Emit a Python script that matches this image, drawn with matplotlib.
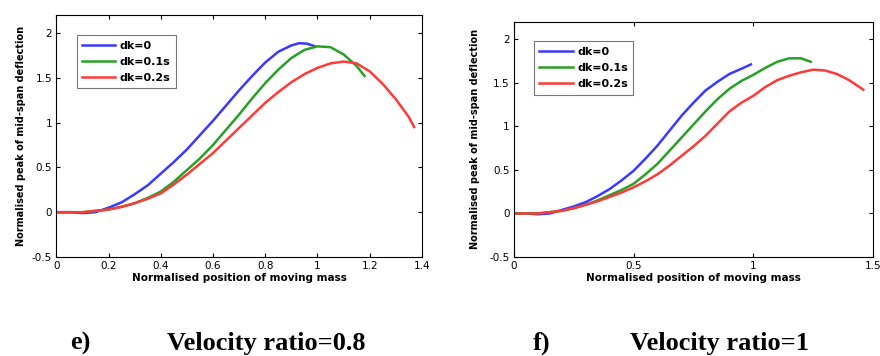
import numpy as np
import matplotlib.pyplot as plt

# velocity ratio 0.8
x08_dk0 = [0, 0.05, 0.1, 0.15, 0.2, 0.25, 0.3, 0.35, 0.4, 0.45, 0.5, 0.55, 0.6, 0.65, 0.7, 0.75, 0.8, 0.85, 0.9, 0.93, 0.96, 0.99]
y08_dk0 = [0, 0, -0.01, 0.0, 0.05, 0.11, 0.2, 0.3, 0.43, 0.56, 0.7, 0.86, 1.02, 1.19, 1.36, 1.52, 1.67, 1.79, 1.86, 1.885, 1.88, 1.85]
x08_dk1 = [0, 0.1, 0.2, 0.25, 0.3, 0.35, 0.4, 0.45, 0.5, 0.55, 0.6, 0.65, 0.7, 0.75, 0.8, 0.85, 0.9, 0.95, 1.0, 1.05, 1.1, 1.15, 1.18]
y08_dk1 = [0, 0, 0.03, 0.06, 0.1, 0.16, 0.23, 0.34, 0.47, 0.6, 0.75, 0.92, 1.09, 1.27, 1.44, 1.59, 1.72, 1.81, 1.85, 1.84, 1.76, 1.63, 1.52]
x08_dk2 = [0, 0.1, 0.2, 0.25, 0.3, 0.35, 0.4, 0.45, 0.5, 0.55, 0.6, 0.65, 0.7, 0.75, 0.8, 0.85, 0.9, 0.95, 1.0, 1.05, 1.1, 1.15, 1.2, 1.25, 1.3, 1.35, 1.37]
y08_dk2 = [0, 0, 0.03, 0.06, 0.1, 0.15, 0.21, 0.31, 0.42, 0.54, 0.66, 0.8, 0.94, 1.08, 1.22, 1.34, 1.45, 1.54, 1.61, 1.66, 1.68, 1.66, 1.57, 1.43, 1.26, 1.06, 0.95]

# velocity ratio 1
x1_dk0 = [0, 0.05, 0.1, 0.15, 0.2, 0.25, 0.3, 0.35, 0.4, 0.45, 0.5, 0.55, 0.6, 0.65, 0.7, 0.75, 0.8, 0.85, 0.9, 0.95, 0.99]
y1_dk0 = [0, 0, -0.01, 0.0, 0.04, 0.08, 0.13, 0.2, 0.28, 0.38, 0.49, 0.63, 0.78, 0.95, 1.12, 1.27, 1.41, 1.51, 1.6, 1.66, 1.71]
x1_dk1 = [0, 0.1, 0.2, 0.25, 0.3, 0.35, 0.4, 0.45, 0.5, 0.55, 0.6, 0.65, 0.7, 0.75, 0.8, 0.85, 0.9, 0.95, 1.0, 1.05, 1.1, 1.15, 1.2, 1.24]
y1_dk1 = [0, 0, 0.03, 0.06, 0.1, 0.15, 0.21, 0.27, 0.34, 0.45, 0.57, 0.72, 0.87, 1.02, 1.17, 1.31, 1.43, 1.52, 1.59, 1.67, 1.74, 1.78, 1.78, 1.74]
x1_dk2 = [0, 0.1, 0.2, 0.25, 0.3, 0.35, 0.4, 0.45, 0.5, 0.55, 0.6, 0.65, 0.7, 0.75, 0.8, 0.85, 0.9, 0.95, 1.0, 1.05, 1.1, 1.15, 1.2, 1.25, 1.3, 1.35, 1.4, 1.46]
y1_dk2 = [0, 0, 0.03, 0.06, 0.1, 0.14, 0.19, 0.24, 0.3, 0.37, 0.45, 0.55, 0.66, 0.77, 0.89, 1.03, 1.17, 1.27, 1.35, 1.45, 1.53, 1.58, 1.62, 1.65, 1.64, 1.6, 1.53, 1.42]

labels = ["dk=0", "dk=0.1s", "dk=0.2s"]
colors = ["#3a3aff", "#28a028", "#ff3a3a"]

captions = [("e)", "Velocity ratio=0.8"), ("f)", "Velocity ratio=1")]

fig = plt.figure(figsize=(8.8, 3.56), dpi=100)
ax1 = fig.add_axes([0.064, 0.278, 0.4155, 0.68])
ax2 = fig.add_axes([0.584, 0.278, 0.408, 0.661])

series = [
    (ax1, [(x08_dk0, y08_dk0), (x08_dk1, y08_dk1), (x08_dk2, y08_dk2)], 1.4, np.arange(0, 1.41, 0.2), 4),
    (ax2, [(x1_dk0, y1_dk0), (x1_dk1, y1_dk1), (x1_dk2, y1_dk2)], 1.5, [0, 0.5, 1, 1.5], 7),
]

for ax, data, xmax, xt, lp in series:
    for (xs, ys), lab, c in zip(data, labels, colors):
        ax.plot(xs, ys, color=c, lw=1.8, label=lab)
    ax.set_xlim(0, xmax)
    ax.set_ylim(-0.5, 2.2)
    ax.set_xticks(xt)
    ax.set_xticklabels(["%g" % t for t in xt])
    ax.set_yticks([-0.5, 0, 0.5, 1, 1.5, 2])
    ax.set_yticklabels(["-0.5", "0", "0.5", "1", "1.5", "2"])
    ax.tick_params(direction="in", top=True, right=True, labelsize=7.5, length=3, pad=3)
    ax.set_xlabel("Normalised position of moving mass", fontsize=7.5, fontweight="bold", labelpad=1)
    ax.set_ylabel("Normalised peak of mid-span deflection", fontsize=7, fontweight="bold", labelpad=lp)
    leg = ax.legend(loc="upper left", bbox_to_anchor=(0.04, 0.94), fontsize=8, frameon=True,
                    fancybox=False, edgecolor="#555555", handlelength=3.0, borderpad=0.5,
                    labelspacing=0.55, handletextpad=0.4)
    leg.get_frame().set_linewidth(0.8)
    for t in leg.get_texts():
        t.set_fontweight("bold")
    for sp in ax.spines.values():
        sp.set_linewidth(0.8)

for (tag, cap), xt, xc in zip(captions, [70 / 880, 533 / 880], [167 / 880, 630 / 880]):
    fig.text(xt, 0.017, tag, fontsize=19, fontweight="bold", family="Liberation Serif",
             ha="left", va="baseline")
    fig.text(xc, 0.017, cap, fontsize=19, fontweight="bold", family="Liberation Serif",
             ha="left", va="baseline")

fig.savefig("out.png", dpi=100)
